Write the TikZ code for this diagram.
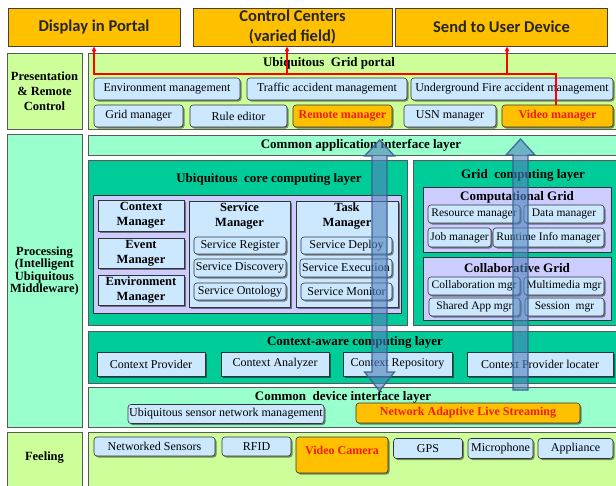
\documentclass[tikz,border=0pt]{standalone}
\usepackage{fontspec}
\setmainfont{Liberation Serif}
\newfontfamily\hdrfont{Carlito}
\usetikzlibrary{shadows,arrows.meta}
\definecolor{orng}{HTML}{FFC000}
\definecolor{lgreen}{HTML}{CCFF99}
\definecolor{aqua}{HTML}{99FFCC}
\definecolor{tealc}{HTML}{00CC99}
\definecolor{lav}{HTML}{CCCCFF}
\definecolor{lblue}{HTML}{CCE8FF}
\definecolor{redtxt}{HTML}{F01E0A}
\definecolor{arrfill}{HTML}{4F81BD}
\definecolor{arrdraw}{HTML}{385D8A}
\tikzset{
 topbox/.style={draw=black!75, fill=orng, line width=0.8pt, text=black!85, font=\hdrfont\bfseries\fontsize{16.5}{20}\selectfont, align=center, inner sep=0pt},
 lbl/.style={draw=gray!70!black, line width=0.8pt, inner sep=0pt},
 lbltxt/.style={font=\bfseries\fontsize{12.5}{12.5}\selectfont, align=center, inner sep=0pt},
 cont/.style={draw=gray!70!black, line width=0.8pt, inner sep=0pt},
 ttl/.style={font=\bfseries\fontsize{13}{13}\selectfont, inner sep=0pt, align=center},
 shd/.style={drop shadow={shadow xshift=1.5pt, shadow yshift=-1.5pt, fill=black, opacity=0.45}},
 sbox/.style={shd, draw=black!80, fill=lblue, rounded corners=3pt, line width=0.6pt, inner sep=0pt, font=\fontsize{12}{12}\selectfont},
 gbox/.style={sbox, font=\fontsize{11.5}{12}\selectfont},
 obox/.style={sbox, fill=orng, text=redtxt, font=\bfseries\fontsize{12}{12}\selectfont},
 mbox/.style={shd, draw=black!80, fill=lblue, line width=0.6pt, inner sep=0pt, align=center, font=\bfseries\fontsize{12.5}{15}\selectfont},
 redln/.style={draw=red, line width=1.4pt, -{Triangle[length=5pt,width=4.5pt]}},
 bigarrow/.style={fill=arrfill, fill opacity=0.6, draw=arrdraw, draw opacity=0.9, line width=1.2pt, line join=miter}
}
\begin{document}
\begin{tikzpicture}[x=1pt,y=-1pt]
\useasboundingbox (0,0) rectangle (616,485);
\fill[white] (0,0) rectangle (616,485);
% top boxes
\node[topbox, minimum width=172pt, minimum height=38pt] (disp) at (94,27) {Display in Portal};
\node[topbox, minimum width=199pt, minimum height=38pt] (ctrl) at (292.5,27) {Control Centers\\(varied field)};
\node[topbox, minimum width=212pt, minimum height=38pt] (send) at (501.5,27) {Send to User Device};
% left labels
\node[lbl, fill=lgreen, minimum width=75pt, minimum height=76pt] (pres) at (44.5,91) {};
\node[lbltxt, font=\bfseries\fontsize{12.5}{15}\selectfont] (prest) at (44.5,91) {Presentation\\\& Remote\\Control};
\node[lbl, fill=aqua, minimum width=75pt, minimum height=293pt] (proc) at (44.5,280.5) {};
\node[lbltxt] (proct) at (44.5,271) {Processing\\(Intelligent\\Ubiquitous\\Middleware)};
\node[lbl, fill=lgreen, minimum width=75pt, minimum height=58pt] (feel) at (44.5,461) {};
\node[lbltxt] (feelt) at (44.5,458) {Feeling};
% containers
\node[cont, fill=lgreen, minimum width=532pt, minimum height=76pt] (portal) at (354,91) {};
\node[ttl] (portalt) at (329,63) {Ubiquitous\enspace Grid portal};
\node[cont, fill=aqua, minimum width=532pt, minimum height=20pt] (capi) at (354,145) {};
\node[ttl] (capit) at (361,145) {Common application interface layer};
\node[cont, fill=tealc, minimum width=319pt, minimum height=165pt] (core) at (247.5,242.5) {};
\node[ttl] (coret) at (269,179) {Ubiquitous\enspace core computing layer};
\node[cont, fill=lav, draw=black!80, minimum width=308pt, minimum height=118pt] (lav1) at (247,254) {};
\node[cont, fill=tealc, minimum width=207pt, minimum height=165pt] (grid) at (516.5,242.5) {};
\node[ttl] (gridt) at (523,175) {Grid\enspace computing layer};
\node[cont, fill=lav, draw=black!80, minimum width=188pt, minimum height=65pt] (compg) at (517,219.5) {};
\node[ttl] (compgt) at (517,197) {Computational Grid};
\node[cont, fill=lav, draw=black!80, minimum width=188pt, minimum height=63pt] (collg) at (517,288.5) {};
\node[ttl] (collgt) at (517,268) {Collaborative Grid};
\node[cont, fill=tealc, minimum width=532pt, minimum height=52pt] (cac) at (354,357) {};
\node[ttl] (cact) at (355,342) {Context-aware computing layer};
\node[cont, fill=aqua, minimum width=532pt, minimum height=40pt] (cdi) at (354,407) {};
\node[ttl] (cdit) at (343,397) {Common\enspace device interface layer};
\node[cont, fill=lgreen, minimum width=532pt, minimum height=58pt] (feelr) at (354,461) {};
% portal boxes
\node[sbox, minimum width=146pt, minimum height=22pt] (env) at (167,89) {Environment management};
\node[sbox, minimum width=160pt, minimum height=22pt] (traf) at (327,89) {Traffic accident management};
\node[sbox, minimum width=202pt, minimum height=22pt] (under) at (512,89) {Underground Fire accident management};
\node[sbox, minimum width=89pt, minimum height=22pt] (gridm) at (138.5,116) {Grid manager};
\node[sbox, minimum width=97pt, minimum height=22pt] (rule) at (238.5,116) {Rule editor};
\node[obox, minimum width=99pt, minimum height=22pt] (remote) at (342.5,116) {Remote manager};
\node[sbox, minimum width=92pt, minimum height=22pt] (usn) at (450,116) {USN manager};
\node[obox, minimum width=111pt, minimum height=22pt] (video) at (557.5,116) {Video manager};
% core boxes
\node[mbox, minimum width=86pt, minimum height=31pt] (ctxm) at (141,215.5) {Context\\Manager};
\node[mbox, minimum width=86pt, minimum height=30pt] (evtm) at (141,253) {Event\\Manager};
\node[mbox, minimum width=86pt, minimum height=30pt] (envm) at (141,290) {Environment\\Manager};
\node[mbox, minimum width=101pt, minimum height=106pt] (svcm) at (239.5,254) {};
\node[ttl, font=\bfseries\fontsize{12.5}{15}\selectfont] (svcmt) at (239.5,216) {Service\\Manager};
\node[sbox, minimum width=92pt, minimum height=17pt] (sreg) at (240,245.5) {Service Register};
\node[sbox, minimum width=92pt, minimum height=18pt] (sdis) at (240,268) {Service Discovery};
\node[sbox, minimum width=92pt, minimum height=17pt] (sont) at (240,291.5) {Service Ontology};
\node[mbox, minimum width=102pt, minimum height=106pt] (taskm) at (347,254) {};
\node[ttl, font=\bfseries\fontsize{12.5}{15}\selectfont] (taskmt) at (347,216) {Task\\Manager};
\node[sbox, minimum width=91pt, minimum height=17pt] (sdep) at (346.5,245.5) {Service Deploy};
\node[sbox, minimum width=92pt, minimum height=18pt] (sexe) at (346,268) {Service Execution};
\node[sbox, minimum width=91pt, minimum height=17pt] (smon) at (346.5,291.5) {Service Monitor};
% grid boxes
\node[gbox, minimum width=92pt, minimum height=18pt] (resm) at (474,214) {Resource manager};
\node[gbox, minimum width=80pt, minimum height=18pt] (datm) at (564,214) {Data manager};
\node[gbox, minimum width=63pt, minimum height=19pt] (jobm) at (459.5,237.5) {Job manager};
\node[gbox, minimum width=111pt, minimum height=19pt] (runm) at (548.5,237.5) {Runtime Info manager};
\node[gbox, minimum width=92pt, minimum height=18pt] (collm) at (474,286) {Collaboration mgr};
\node[gbox, minimum width=80pt, minimum height=18pt] (multm) at (564,286) {Multimedia mgr};
\node[gbox, minimum width=91pt, minimum height=18pt] (sharm) at (474.5,307) {Shared App mgr};
\node[gbox, minimum width=79pt, minimum height=18pt] (sessm) at (564.5,307) {Session\enspace mgr};
% context-aware
\node[sbox, rounded corners=0pt, minimum width=108pt, minimum height=24pt] (cprov) at (151,364) {Context Provider};
\node[sbox, rounded corners=0pt, minimum width=108pt, minimum height=24pt] (canal) at (275,364) {Context Analyzer};
\node[sbox, rounded corners=0pt, minimum width=109pt, minimum height=24pt] (crep) at (397.5,364) {Context Repository};
\node[sbox, rounded corners=0pt, minimum width=146pt, minimum height=24pt] (cloc) at (540,364) {Context Provider locater};
% device interface
\node[sbox, minimum width=196pt, minimum height=19pt] (usnm) at (226,414) {Ubiquitous sensor network management};
\node[obox, minimum width=224pt, minimum height=20pt] (nals) at (468,413) {Network Adaptive Live Streaming};
% feeling
\node[sbox, minimum width=121pt, minimum height=19pt] (nets) at (154.5,446.5) {Networked Sensors};
\node[sbox, minimum width=69pt, minimum height=19pt] (rfid) at (256.5,446.5) {RFID};
\node[obox, minimum width=92pt, minimum height=36pt, text depth=9.5pt] (vcam) at (342,455) {Video Camera};
\node[sbox, minimum width=69pt, minimum height=20pt] (gps) at (428,448.5) {GPS};
\node[sbox, minimum width=65pt, minimum height=20pt] (mic) at (500.5,448.5) {Microphone};
\node[sbox, minimum width=75pt, minimum height=20pt] (appl) at (575.5,448.5) {Appliance};
% red connectors
\coordinate (rj) at (556,74);
\coordinate (rc) at (287,74);
\coordinate (rs) at (507,74);
\draw[redln] (video.north -| rj) -- (rj) -- (rj -| disp.south) -- (disp.south);
\draw[redln] (rc) -- (rc |- ctrl.south);
\draw[redln] (rs) -- (rs |- send.south);
% big arrows
\draw[bigarrow] (372,156) -- (364.5,156) -- (379.5,140) -- (394.5,156) -- (387,156) -- (387,372) -- (394.5,372) -- (379.5,391) -- (364.5,372) -- (372,372) -- cycle;
\draw[bigarrow] (513,155) -- (506,155) -- (520.5,139) -- (535,155) -- (528,155) -- (528,390) -- (513,390) -- cycle;
\end{tikzpicture}
\end{document}
